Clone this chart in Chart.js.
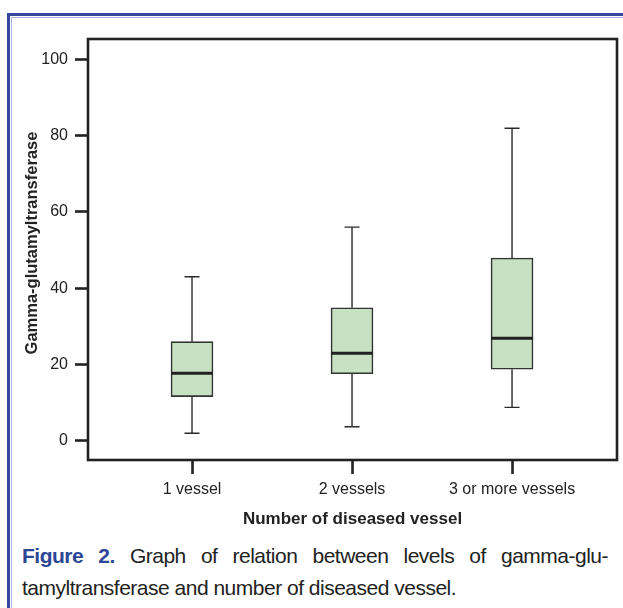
<!DOCTYPE html>
<html>
<head>
<meta charset="utf-8">
<script src="https://cdn.jsdelivr.net/npm/chart.js@4.4.1/dist/chart.umd.min.js"></script>
<style>
  html, body { margin:0; padding:0; background:#fff; }
  body { width:623px; height:608px; position:relative; overflow:hidden; font-family:"Liberation Sans", Arial, sans-serif; }
  #wrap { position:absolute; left:0; top:0; width:623px; height:540px; }
  .ln { position:absolute; }
  #caption { position:absolute; left:22px; top:540px; width:586px; font-size:21px; letter-spacing:-0.5px; line-height:32px; color:#222; }
  #caption .l1 { text-align:justify; text-align-last:justify; white-space:nowrap; }
  #caption b { color:#2c4596; }
</style>
</head>
<body>
<div class="ln" style="left:7px;top:13px;width:616px;height:2.5px;background:#34499b"></div>
<div class="ln" style="left:11px;top:17px;width:612px;height:1px;background:#a6b3e0"></div>
<div class="ln" style="left:7px;top:13px;width:2.5px;height:595px;background:#34499b"></div>
<div class="ln" style="left:11px;top:17px;width:1px;height:591px;background:#a6b3e0"></div>
<div id="wrap"><canvas id="c" width="623" height="540"></canvas></div>
<div id="caption">
  <div class="l1"><b>Figure 2.</b> Graph of relation between levels of gamma-glu-</div>
  <div>tamyltransferase and number of diseased vessel.</div>
</div>
<script>
const categories = ['1 vessel', '2 vessels', '3 or more vessels'];
const positions = [1, 2, 3];
const minVals = [2, 3.7, 8.8];
const q1Vals = [11.6, 17.6, 18.8];
const medianVals = [17.7, 23, 26.9];
const q3Vals = [26, 34.9, 47.9];
const maxVals = [43, 56, 81.9];
const yTicks = [0, 20, 40, 60, 80, 100];
const yTitle = 'Gamma-glutamyltransferase';
const xTitle = 'Number of diseased vessel';

const BOX_W = 42;

const boxPlugin = {
  id: 'boxExtras',
  afterDatasetsDraw(chart) {
    const {ctx, scales:{x, y}, chartArea:a} = chart;
    ctx.save();
    ctx.strokeStyle = '#2a2a2a';
    ctx.lineWidth = 1.4;
    positions.forEach((p, i) => {
      const px = x.getPixelForValue(p);
      const yMin = y.getPixelForValue(minVals[i]);
      const yMax = y.getPixelForValue(maxVals[i]);
      const yQ1 = y.getPixelForValue(q1Vals[i]);
      const yQ3 = y.getPixelForValue(q3Vals[i]);
      ctx.beginPath();
      ctx.moveTo(px, yQ3); ctx.lineTo(px, yMax);
      ctx.moveTo(px - 7.5, yMax); ctx.lineTo(px + 7.5, yMax);
      ctx.moveTo(px, yQ1); ctx.lineTo(px, yMin);
      ctx.moveTo(px - 7.5, yMin); ctx.lineTo(px + 7.5, yMin);
      ctx.stroke();
    });
    ctx.strokeStyle = '#222';
    ctx.lineWidth = 3;
    positions.forEach((p, i) => {
      const px = x.getPixelForValue(p);
      const ym = y.getPixelForValue(medianVals[i]);
      ctx.beginPath();
      ctx.moveTo(px - BOX_W/2, ym); ctx.lineTo(px + BOX_W/2, ym);
      ctx.stroke();
    });
    ctx.strokeStyle = '#222';
    ctx.lineWidth = 2.6;
    ctx.strokeRect(a.left, a.top, a.right - a.left, a.bottom - a.top);
    ctx.fillStyle = '#222';
    ctx.font = 'bold 16.5px "Liberation Sans", Arial, sans-serif';
    ctx.textAlign = 'center';
    ctx.textBaseline = 'middle';
    ctx.translate(32.5, 243);
    ctx.rotate(-Math.PI/2);
    ctx.fillText(yTitle, 0, 0);
    ctx.restore();
  }
};

new Chart(document.getElementById('c'), {
  type: 'bar',
  data: {
    datasets: [{
      data: positions.map((p, i) => ({x: p, y: [q1Vals[i], q3Vals[i]]})),
      backgroundColor: '#c8e1c3',
      borderColor: '#333',
      borderWidth: 1.6,
      borderSkipped: false,
      barThickness: BOX_W,
      grouped: false
    }]
  },
  options: {
    responsive: false,
    animation: false,
    events: [],
    layout: { padding: { top: 39, right: 6, left: 0, bottom: 0 } },
    plugins: { legend: { display: false }, tooltip: { enabled: false } },
    scales: {
      x: {
        type: 'linear',
        min: 0.35,
        max: 3.656,
        offset: false,
        afterFit(s) { s.height = 80; },
        afterBuildTicks(s) { s.ticks = positions.map(v => ({value: v})); },
        ticks: {
          callback: (v) => categories[positions.indexOf(v)] ?? '',
          color: '#222',
          font: { family: '"Liberation Sans", Arial, sans-serif', size: 16 },
          padding: 6,
          maxRotation: 0,
          autoSkip: false
        },
        grid: { offset: false, drawOnChartArea: false, drawTicks: true, tickLength: 14, tickColor: '#222', tickWidth: 2.6, color: '#222' },
        border: { display: false },
        title: {
          display: true,
          text: xTitle,
          color: '#222',
          font: { family: '"Liberation Sans", Arial, sans-serif', size: 17, weight: 'bold' },
          padding: { top: 0, bottom: 10.8 }
        }
      },
      y: {
        min: -5.0,
        max: 105.3,
        afterFit(s) { s.width = 88; },
        afterBuildTicks(s) { s.ticks = yTicks.map(v => ({value: v})); },
        ticks: {
          color: '#222',
          font: { family: '"Liberation Sans", Arial, sans-serif', size: 16 },
          padding: 7
        },
        grid: { drawOnChartArea: false, drawTicks: true, tickLength: 13, tickColor: '#222', tickWidth: 2.6, color: '#222' },
        border: { display: false }
      }
    }
  },
  plugins: [boxPlugin]
});
</script>
</body>
</html>
